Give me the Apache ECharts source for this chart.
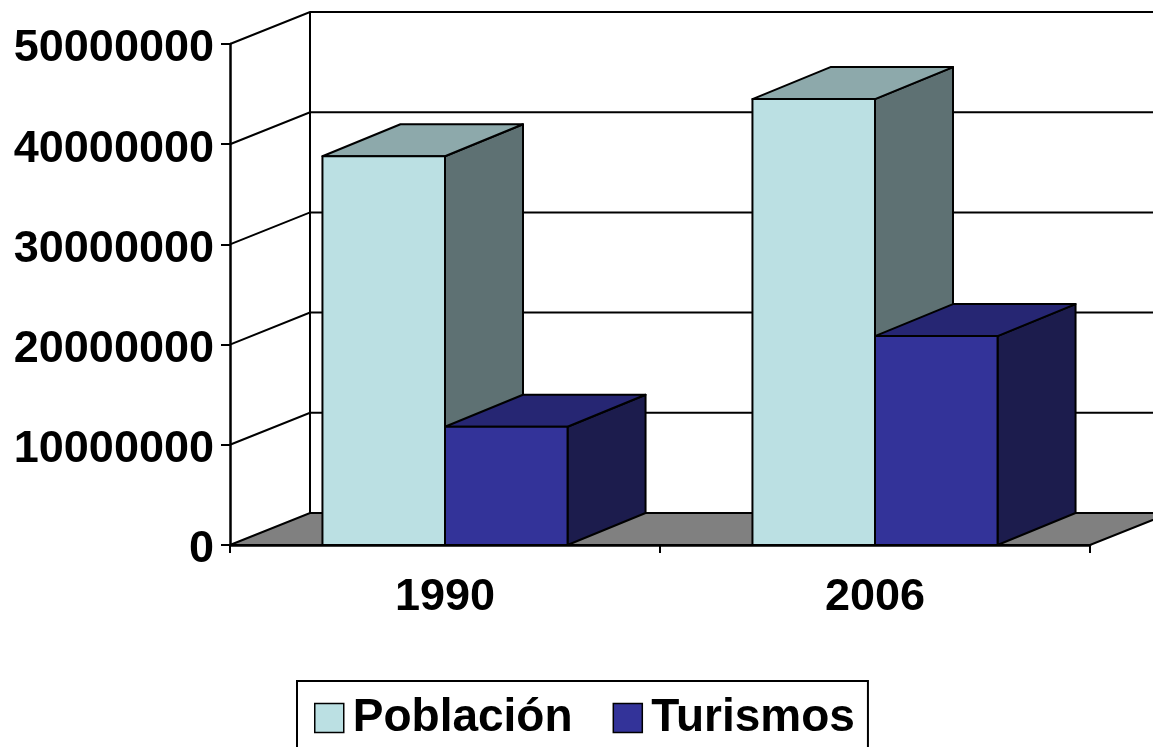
<!DOCTYPE html>
<html><head><meta charset="utf-8">
<script src="https://cdn.jsdelivr.net/npm/echarts@6/dist/echarts.min.js"></script>
<style>html,body{margin:0;padding:0;background:#fff}#c{width:1153px;height:747px}</style>
</head><body><div id="c"></div>
<script>
const categories = ['1990', '2006'];
const poblacion = [38800000, 44500000];
const turismos = [11800000, 20850000];
const yTicks = [0, 10000000, 20000000, 30000000, 40000000, 50000000];
const seriesNames = ['Población', 'Turismos'];

const DX = 80, DY = -32;
const BDX = 78, BDY = -32;
const BAR_FRAC = 0.285;
const FONT = '"Liberation Sans", Arial, sans-serif';
const COLORS = [
  {front: '#BBE0E3', top: '#8DA9AB', side: '#5E7173'},
  {front: '#333399', top: '#262673', side: '#1C1C4D'}
];

const chart = echarts.init(document.getElementById('c'), null, {renderer: 'canvas'});

function wallItem(params, api) {
  const cs = params.coordSys;
  const v = api.value(1);
  const y = api.coord([0, v])[1];
  const x0 = cs.x, x1 = cs.x + cs.width;
  const line = {stroke: '#000', lineWidth: 2, fill: null};
  const children = [];
  if (v === yTicks[0]) {
    children.push({type: 'polygon', shape: {points: [[x0, y], [x0 + DX, y + DY], [x1 + DX, y + DY], [x1, y]]},
      style: {fill: '#808080', stroke: '#000', lineWidth: 2}});
    const yTop = api.coord([0, yTicks[yTicks.length - 1]])[1];
    children.push({type: 'line', shape: {x1: x0 + DX, y1: y + DY, x2: x0 + DX, y2: yTop + DY}, style: line});
  } else {
    children.push({type: 'polyline', shape: {points: [[x0, y], [x0 + DX, y + DY], [x1 + DX + 20, y + DY]]}, style: line});
  }
  return {type: 'group', children: children};
}

function barItem(sIdx) {
  return function (params, api) {
    const i = api.value(0);
    const val = api.value(1);
    const base = api.coord([i, 0]);
    const topPt = api.coord([i, val]);
    const band = api.size([1, 0])[0];
    const w = band * BAR_FRAC;
    const xl = sIdx === 0 ? base[0] - w : base[0];
    const xr = xl + w;
    const yb = base[1], yt = topPt[1];
    const c = COLORS[sIdx];
    const edge = {stroke: '#000', lineWidth: 2, lineJoin: 'round'};
    return {
      type: 'group',
      children: [
        {type: 'polygon', shape: {points: [[xr, yb], [xr + BDX, yb + BDY], [xr + BDX, yt + BDY], [xr, yt]]},
          style: Object.assign({fill: c.side}, edge)},
        {type: 'polygon', shape: {points: [[xl, yt], [xl + BDX, yt + BDY], [xr + BDX, yt + BDY], [xr, yt]]},
          style: Object.assign({fill: c.top}, edge)},
        {type: 'rect', shape: {x: xl, y: yt, width: w, height: yb - yt},
          style: Object.assign({fill: c.front}, edge)}
      ]
    };
  };
}

const option = {
  animation: false,
  backgroundColor: '#fff',
  grid: {left: 230, top: 44, right: 63, bottom: 202, containLabel: false},
  xAxis: {
    type: 'category', data: categories, boundaryGap: true,
    axisLine: {lineStyle: {color: '#000', width: 2.5}},
    axisTick: {show: true, length: 8, lineStyle: {color: '#000', width: 2}},
    axisLabel: {color: '#000', fontFamily: FONT, fontWeight: 'bold', fontSize: 45, margin: 30},
    splitLine: {show: false}
  },
  yAxis: {
    type: 'value', min: 0, max: 50000000, interval: 10000000,
    axisLine: {show: true, lineStyle: {color: '#000', width: 2.5}},
    axisTick: {show: true, length: 9, lineStyle: {color: '#000', width: 2}},
    axisLabel: {color: '#000', fontFamily: FONT, fontWeight: 'bold', fontSize: 45, margin: 16,
      formatter: function (v) { return '{a|' + String(v) + '}'; },
      rich: {a: {color: '#000', fontFamily: FONT, fontWeight: 'bold', fontSize: 45, padding: [10, 0, 0, 0]}}},
    splitLine: {show: false}
  },
  legend: {
    data: seriesNames, left: 297, top: 681, orient: 'horizontal',
    itemWidth: 29, itemHeight: 29, itemGap: 40, icon: 'rect',
    padding: [14, 13, 14, 17], borderColor: '#000', borderWidth: 2,
    textStyle: {fontFamily: FONT, fontWeight: 'bold', fontSize: 46, color: '#000', lineHeight: 36, padding: [0, 0, 0, 4]},
    itemStyle: {borderColor: '#000', borderWidth: 1.5}
  },
  series: [
    {type: 'custom', name: 'wall', z: 1, silent: true, renderItem: wallItem,
      data: yTicks.map(function (v) { return [0, v]; })},
    {type: 'custom', name: seriesNames[0], z: 2, renderItem: barItem(0),
      itemStyle: {color: COLORS[0].front, borderColor: '#000', borderWidth: 1.5},
      data: poblacion.map(function (v, i) { return [i, v]; })},
    {type: 'custom', name: seriesNames[1], z: 3, renderItem: barItem(1),
      itemStyle: {color: COLORS[1].front, borderColor: '#000', borderWidth: 1.5},
      data: turismos.map(function (v, i) { return [i, v]; })}
  ]
};
chart.setOption(option);
</script>
</body></html>
